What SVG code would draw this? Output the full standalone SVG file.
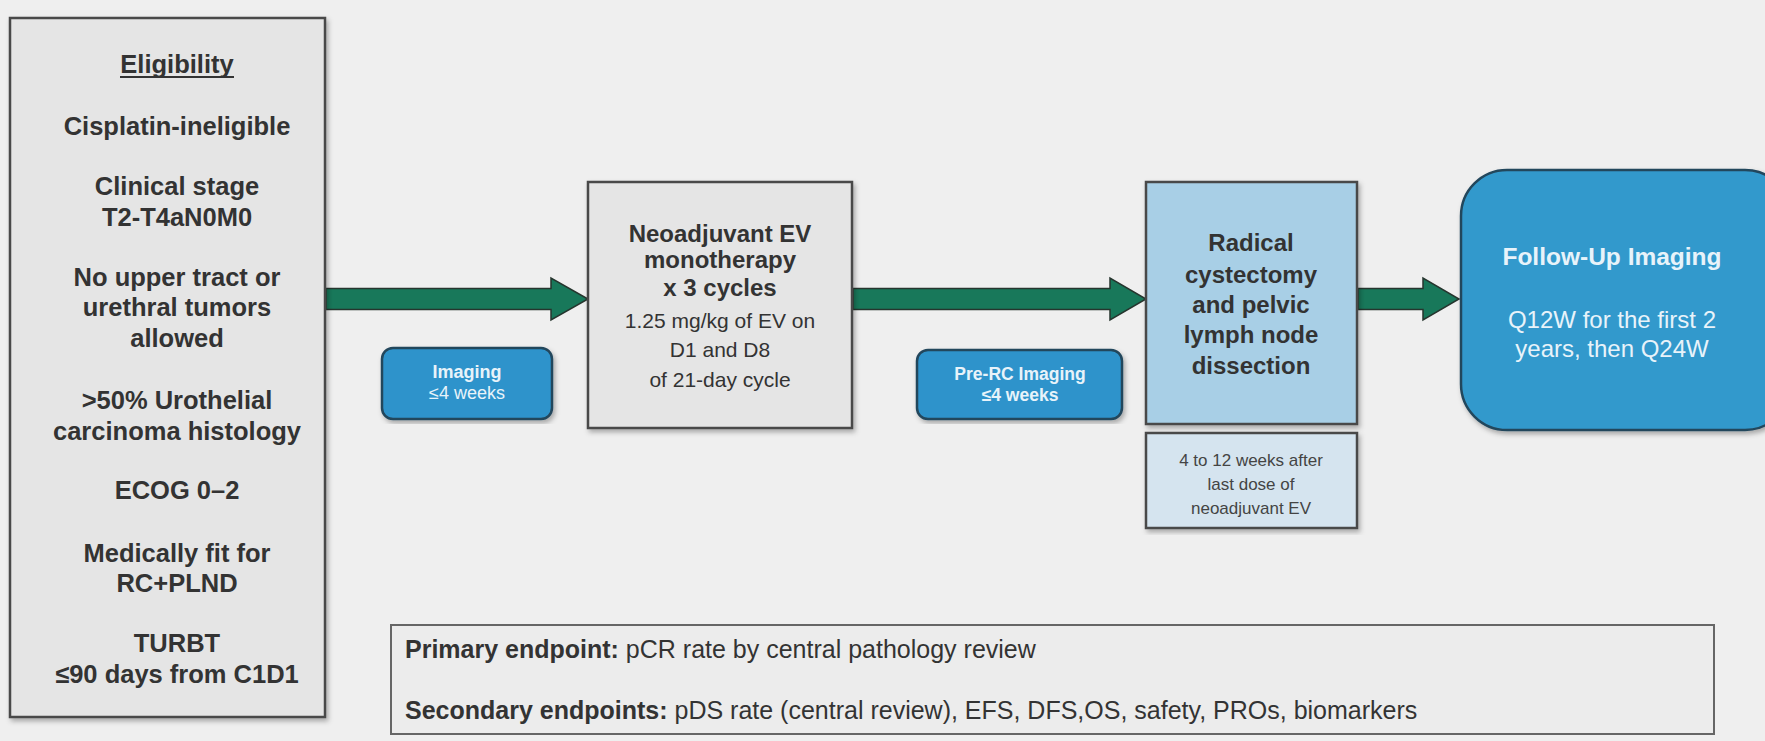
<svg xmlns="http://www.w3.org/2000/svg" width="1765" height="741" viewBox="0 0 1765 741">
<defs>
<filter id="sh" x="-5%" y="-5%" width="112%" height="112%">
<feDropShadow dx="2" dy="3" stdDeviation="2.5" flood-color="#000" flood-opacity="0.3"/>
</filter>
<style>
.t{font-family:"Liberation Sans",Arial,sans-serif;text-anchor:middle}
.b{font-weight:bold}
.dk{fill:#333}
.wh{fill:#e8f3fa}
.box{fill:#e5e5e5;stroke:#4a4a4a;stroke-width:2.5}
.pill{fill:#2f93cb;stroke:#24465c;stroke-width:2.5}
.arr{fill:#18785a;stroke:#26352e;stroke-width:1.5}
</style>
</defs>
<rect width="1765" height="741" fill="#efefef"/>

<g id="connectors">
<polygon class="arr" points="326,288.5 551,288.5 551,278 588,299 551,320 551,309.5 326,309.5"/>
<polygon class="arr" points="853,288.5 1110,288.5 1110,278 1146,299 1110,320 1110,309.5 853,309.5"/>
<polygon class="arr" points="1358,288.5 1423,288.5 1423,278 1459,299 1423,320 1423,309.5 1358,309.5"/>
</g>

<g id="eligibility">
<rect class="box" x="10" y="18" width="315" height="699" filter="url(#sh)"/>
<g class="t b dk" font-size="25.5">
<text x="177" y="73">Eligibility</text>
<text x="177" y="135">Cisplatin-ineligible</text>
<text x="177" y="195">Clinical stage</text>
<text x="177" y="226">T2-T4aN0M0</text>
<text x="177" y="286">No upper tract or</text>
<text x="177" y="316">urethral tumors</text>
<text x="177" y="347">allowed</text>
<text x="177" y="409">&gt;50% Urothelial</text>
<text x="177" y="440">carcinoma histology</text>
<text x="177" y="499">ECOG 0–2</text>
<text x="177" y="562">Medically fit for</text>
<text x="177" y="592">RC+PLND</text>
<text x="177" y="652">TURBT</text>
<text x="177" y="683">≤90 days from C1D1</text>
</g>
<line x1="120" y1="77" x2="234" y2="77" stroke="#333" stroke-width="2"/>
</g>

<g id="imaging1">
<rect class="pill" x="382" y="348" width="170" height="71" rx="11" filter="url(#sh)"/>
<text class="t b wh" font-size="18" x="467" y="378">Imaging</text>
<text class="t wh" font-size="18" x="467" y="399">≤4 weeks</text>
</g>

<g id="neoadjuvant">
<rect class="box" x="588" y="182" width="264" height="246" filter="url(#sh)"/>
<g class="t dk">
<text class="b" font-size="24" x="720" y="242">Neoadjuvant EV</text>
<text class="b" font-size="24" x="720" y="268">monotherapy</text>
<text class="b" font-size="24" x="720" y="296">x 3 cycles</text>
<text font-size="21" x="720" y="328">1.25 mg/kg of EV on</text>
<text font-size="21" x="720" y="357">D1 and D8</text>
<text font-size="21" x="720" y="387">of 21-day cycle</text>
</g>
</g>

<g id="prerc">
<rect class="pill" x="917" y="350" width="205" height="69" rx="11" filter="url(#sh)"/>
<text class="t b wh" font-size="17.5" x="1020" y="380">Pre-RC Imaging</text>
<text class="t b wh" font-size="17.5" x="1020" y="401">≤4 weeks</text>
</g>

<g id="radical">
<rect x="1146" y="182" width="211" height="242" fill="#a8cfe6" stroke="#4a4a4a" stroke-width="2.5" filter="url(#sh)"/>
<g class="t b dk" font-size="24">
<text x="1251" y="251">Radical</text>
<text x="1251" y="283">cystectomy</text>
<text x="1251" y="313">and pelvic</text>
<text x="1251" y="343">lymph node</text>
<text x="1251" y="374">dissection</text>
</g>
</g>

<g id="timing">
<rect x="1146" y="433" width="211" height="95" fill="#d5e4ef" stroke="#4a4a4a" stroke-width="2.5" filter="url(#sh)"/>
<g class="t" font-size="17" fill="#444">
<text x="1251" y="466">4 to 12 weeks after</text>
<text x="1251" y="490">last dose of</text>
<text x="1251" y="514">neoadjuvant EV</text>
</g>
</g>

<g id="followup">
<rect x="1461" y="170" width="330" height="260" rx="46" fill="#3399cc" stroke="#24465c" stroke-width="2.5" filter="url(#sh)"/>
<text class="t b wh" font-size="24.5" x="1612" y="265">Follow-Up Imaging</text>
<text class="t wh" font-size="24" x="1612" y="328">Q12W for the first 2</text>
<text class="t wh" font-size="24" x="1612" y="357">years, then Q24W</text>
</g>

<g id="endpoints">
<rect x="391" y="625" width="1323" height="109" fill="#ececec" stroke="#666" stroke-width="2"/>
<text font-family="Liberation Sans,Arial,sans-serif" font-size="25" fill="#333" x="405" y="658"><tspan font-weight="bold">Primary endpoint:</tspan> pCR rate by central pathology review</text>
<text font-family="Liberation Sans,Arial,sans-serif" font-size="25" fill="#333" x="405" y="719"><tspan font-weight="bold">Secondary endpoints:</tspan> pDS rate (central review), EFS, DFS,OS, safety, PROs, biomarkers</text>
</g>
</svg>
